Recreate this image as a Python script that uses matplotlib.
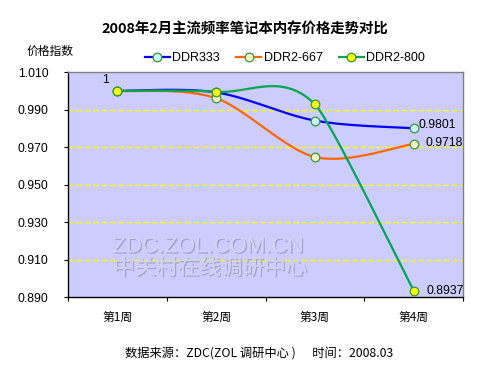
import matplotlib
matplotlib.use('Agg')
import matplotlib.pyplot as plt
import matplotlib.patheffects as pe
from matplotlib.lines import Line2D
import numpy as np

plt.rcParams['font.family'] = ['Liberation Sans', 'Noto Sans CJK SC', 'DejaVu Sans']

weeks = ['第1周', '第2周', '第3周', '第4周']
series_names = ['DDR333', 'DDR2-667', 'DDR2-800']
ddr333 = [1.0, 0.9992, 0.9842, 0.9801]
ddr2_667 = [1.0, 0.9961, 0.9648, 0.9718]
ddr2_800 = [1.0, 0.9995, 0.9929, 0.8937]
y_ticks = [0.890, 0.910, 0.930, 0.950, 0.970, 0.990, 1.010]

line_colors = ['#0000ff', '#ff6600', '#00a650']
marker_faces = ['#ccffff', '#ffffcc', '#ffff00']
marker_edge = '#339933'


def smooth(ax, values, n=50, tension=1 / 6):
    # bezier smoothing done in screen space, roughly like Excel's smoothed lines
    pts = ax.transData.transform(np.column_stack([np.arange(len(values)), values]))
    ext = np.vstack([pts[0], pts, pts[-1]])
    t = np.linspace(0, 1, n)[:, None]
    out = []
    for i in range(len(pts) - 1):
        p0, p3 = pts[i], pts[i + 1]
        d_prev = np.linalg.norm(ext[i + 1] - ext[i])
        d_seg = np.linalg.norm(p3 - p0)
        d_next = np.linalg.norm(ext[i + 3] - ext[i + 2])
        f1 = tension * min(1.0, d_prev / d_seg) if d_prev > 0 else tension
        f2 = tension * min(1.0, d_next / d_seg) if d_next > 0 else tension
        p1 = p0 + f1 * (ext[i + 2] - ext[i])
        p2 = p3 - f2 * (ext[i + 3] - ext[i + 1])
        seg = (1 - t) ** 3 * p0 + 3 * (1 - t) ** 2 * t * p1 + 3 * (1 - t) * t ** 2 * p2 + t ** 3 * p3
        out.append(seg)
    out = ax.transData.inverted().transform(np.vstack(out))
    return out[:, 0], out[:, 1]


fig = plt.figure(figsize=(5, 3.75), dpi=100)
fig.patch.set_facecolor('white')
ax = fig.add_axes([0.136, 0.2067, 0.79, 0.601])
ax.set_facecolor('#ccccff')
ax.set_xlim(-0.5, 3.5)
ax.set_ylim(0.890, 1.010)

x = np.arange(len(weeks))
all_series = [ddr333, ddr2_667, ddr2_800]

for yv in y_ticks[1:-1]:
    ax.axhline(yv, color='#ffff00', lw=1, ls=(0, (4, 2)), zorder=1)

# watermark
wm = [pe.withSimplePatchShadow(offset=(1, -1), shadow_rgbFace='#8888b0', alpha=0.6), pe.Normal()]
fig.text(0.416, 0.342, 'ZDC.ZOL.COM.CN', fontsize=16, color='#d2d2f4', ha='center', va='center',
         path_effects=wm, zorder=2)
fig.text(0.42, 0.285, '中关村在线调研中心', fontsize=15.5, color='#d2d2f4', ha='center', va='center',
         family=['Noto Sans CJK SC'], path_effects=wm, zorder=2)

for vals, c in zip(all_series, line_colors):
    sx, sy = smooth(ax, vals)
    ax.plot(sx, sy, color=c, lw=1.6, zorder=3, solid_capstyle='round')
for vals, fc in zip(all_series, marker_faces):
    ax.plot(x, vals, 'o', ls='none', ms=6.2, mfc=fc, mec=marker_edge, mew=0.9, zorder=4)

lab_kw = dict(textcoords='offset points', fontsize=8.7, va='center', zorder=5)
ax.annotate('1', (0, ddr2_800[0]), xytext=(-8.6, 7.9), ha='center', **lab_kw)
ax.annotate('0.9801', (3, ddr333[3]), xytext=(3.6, 2.2), ha='left', **lab_kw)
ax.annotate('0.9718', (3, ddr2_667[3]), xytext=(8.6, 0.3), ha='left', **lab_kw)
ax.annotate('0.8937', (3, ddr2_800[3]), xytext=(9.3, 0), ha='left', **lab_kw)

ax.set_yticks(y_ticks)
ax.set_yticklabels(['%.3f' % v for v in y_ticks], fontsize=8.8)
ax.set_xticks(np.arange(-0.5, 4, 1))
ax.set_xticklabels([])
ax.set_xticks(x, minor=True)
ax.set_xticklabels(weeks, minor=True, fontsize=8.5, family=['Noto Sans CJK SC'])
ax.tick_params(axis='x', which='minor', length=0, pad=10)
ax.tick_params(axis='x', which='major', length=3, direction='out', color='black')
ax.tick_params(axis='y', length=3, direction='out', pad=11)

ax.spines['left'].set_color('black')
ax.spines['bottom'].set_color('black')
ax.spines['top'].set_color('#808080')
ax.spines['right'].set_color('#808080')
for s in ax.spines.values():
    s.set_linewidth(1)

fig.text(0.49, 0.921, '2008年2月主流频率笔记本内存价格走势对比', fontsize=10.4, fontweight='bold',
         ha='center', va='center', family=['Noto Sans CJK SC'])
fig.text(0.101, 0.862, '价格指数', fontsize=8.5, ha='center', va='center', family=['Noto Sans CJK SC'])
fig.text(0.518, 0.059, '数据来源：ZDC(ZOL 调研中心 )      时间：2008.03', fontsize=8.8,
         ha='center', va='center', family=['Noto Sans CJK SC'])

handles = [Line2D([0], [0], color=c, lw=1.6, marker='o', ms=6.2, mfc=fc, mec=marker_edge, mew=0.9)
           for c, fc in zip(line_colors, marker_faces)]
fig.legend(handles, series_names, loc='center', bbox_to_anchor=(0.57, 0.845), ncol=3, frameon=False,
           fontsize=9, handlelength=2.0, handletextpad=0.2, columnspacing=1.3, borderpad=0)

fig.savefig('out.png', dpi=100)
